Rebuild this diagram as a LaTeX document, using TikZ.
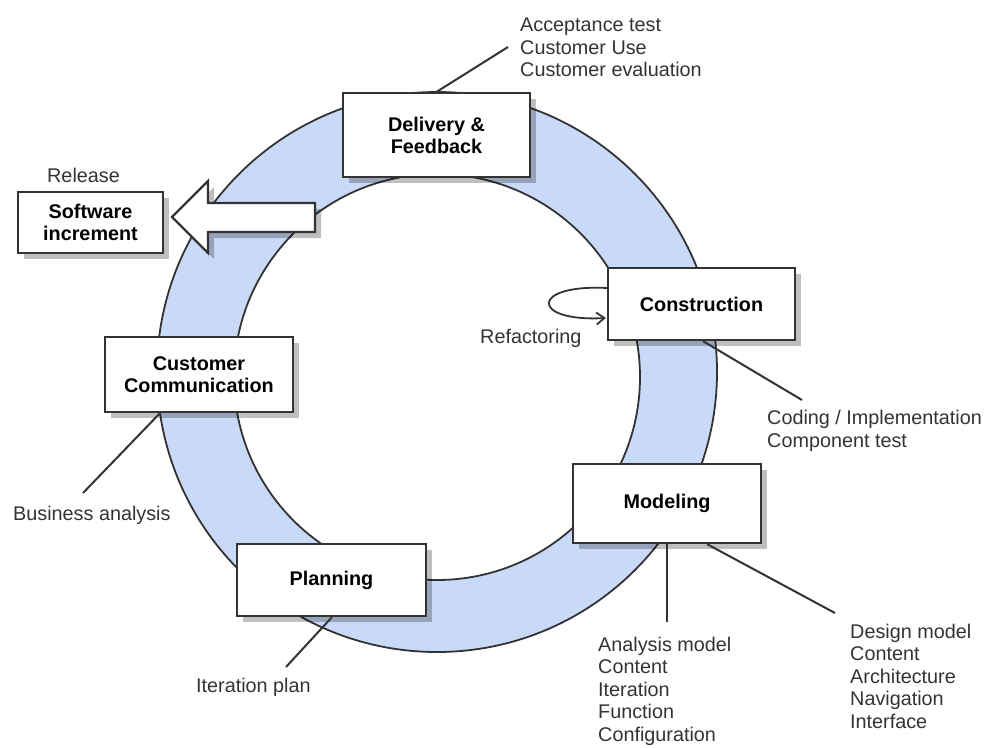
\documentclass[tikz,border=0pt]{standalone}
\usepackage{fontspec}
\setmainfont{Liberation Sans}
\usetikzlibrary{arrows.meta,calc,shadows}
\definecolor{ringblue}{RGB}{201,218,248}
\definecolor{ink}{RGB}{51,51,51}
\begin{document}
\begin{tikzpicture}[x=1pt,y=-1pt,
  stage/.style={draw=ink,line width=2.2pt,fill=white,text=black,
    font=\fontsize{19.8}{22}\selectfont\bfseries,align=center,inner sep=0pt,
    drop shadow={shadow xshift=6pt,shadow yshift=-6pt,fill=black,opacity=0.25}},
  lbl/.style={text=ink,font=\fontsize{19.8}{22.5}\selectfont,align=left,inner sep=0pt,anchor=west},
  lead/.style={draw=ink,line width=2pt},
  ringline/.style={draw=ink,line width=1.8pt}]
\useasboundingbox (0,0) rectangle (990,747);

% ring
\fill[ringblue,even odd rule] (437,372) circle (280pt) (437,377) circle (203pt);
\draw[ringline] (437,372) circle (280pt);
\draw[ringline] (437,377) circle (203pt);

% release arrow
\fill[black,opacity=0.25] (178,223) -- (214,187) -- (214,209) -- (321,209) -- (321,238) -- (214,238) -- (214,259) -- cycle;
\draw[ink,line width=2.2pt,fill=white,line join=miter] (172,217) -- (208,181) -- (208,203) -- (315,203) -- (315,232) -- (208,232) -- (208,253) -- cycle;

% stages
\node[stage,minimum width=145pt,minimum height=61pt] (sw) at (90.5,222.5) {Software\\increment};
\node[stage,minimum width=187pt,minimum height=84pt] (del) at (436.5,135) {Delivery \&\\Feedback};
\node[stage,minimum width=187pt,minimum height=72pt] (con) at (701.5,304) {Construction};
\node[stage,minimum width=188pt,minimum height=79pt] (mod) at (667,503.5) {Modeling};
\node[stage,minimum width=188pt,minimum height=75pt] (cc) at (199,374.5) {Customer\\Communication};
\node[stage,minimum width=189pt,minimum height=72pt] (plan) at (331.5,580) {Planning};

% leader end points
\coordinate (eDel) at (508,47);
\coordinate (eCon) at (802,400);
\coordinate (eModA) at (667,622);
\coordinate (eModD) at (835,613);
\coordinate (eCC) at (83,493);
\coordinate (ePlan) at (286,667);

\draw[lead] (del.north) -- (eDel);
\draw[lead] ($(con.south)+(1.5,0)$) -- (eCon);
\draw[lead] (mod.south) -- (eModA);
\draw[lead] ($(mod.south)+(40,0)$) -- (eModD);
\draw[lead] ($(cc.south)+(-39,0)$) -- (eCC);
\draw[lead] ($(plan.south)+(0.5,0)$) -- (ePlan);

% refactoring loop
\coordinate (rf1) at ($(con.west)+(0,-16)$);
\coordinate (rf2) at ($(con.west)+(-1,14)$);
\draw[ink,line width=1.8pt,-{Straight Barb[length=8pt,width=12pt]}] (rf1) .. controls (530,284) and (530,322) .. (rf2);

% labels
\node[lbl] (tRel) at (47,175) {Release};
\node[lbl] (tDel) at (520,47.5) {Acceptance test\\Customer Use\\Customer evaluation};
\node[lbl] (tRef) at (480,338) {Refactoring};
\node[lbl] (tCon) at (767,431) {Coding / Implementation\\Component test};
\node[lbl] (tAna) at (598,691) {Analysis model\\Content\\Iteration\\Function\\Configuration};
\node[lbl] (tDes) at (850,676) {Design model\\Content\\Architecture\\Navigation\\Interface};
\node[lbl] (tBus) at (13,515) {Business analysis};
\node[lbl] (tIt) at (196,687) {Iteration plan};
\end{tikzpicture}
\end{document}
